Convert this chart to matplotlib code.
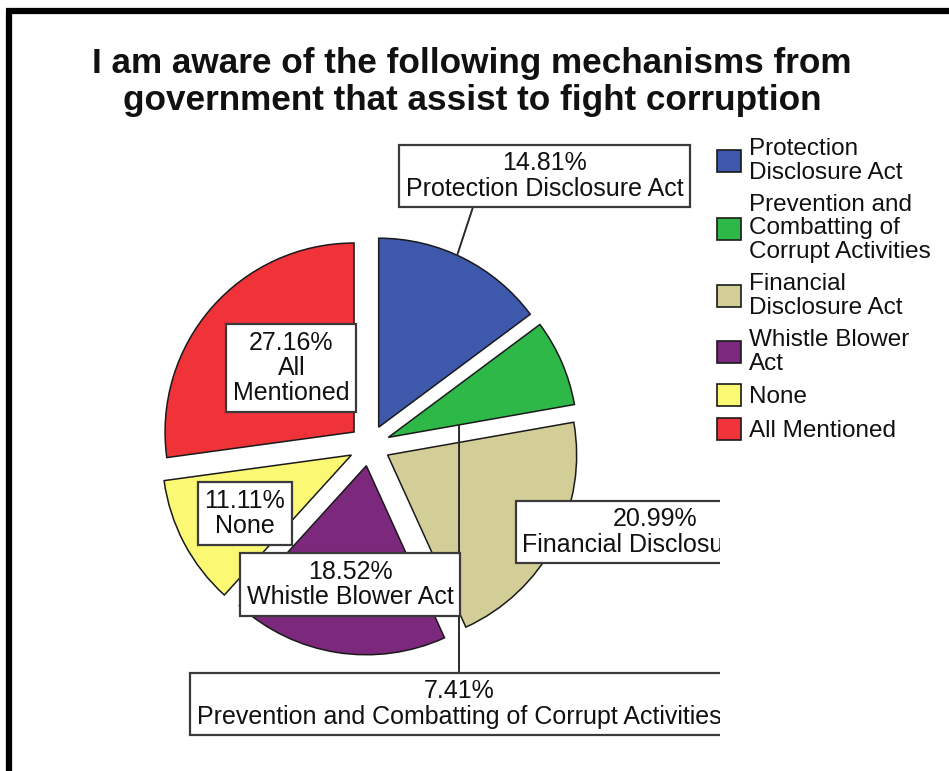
import matplotlib
matplotlib.use("Agg")
import matplotlib.pyplot as plt
import numpy as np
from matplotlib.transforms import Bbox, TransformedBbox

plt.rcParams["font.family"] = ["Liberation Sans", "DejaVu Sans"]

# ---- data -------------------------------------------------------------
categories = [
    "Protection Disclosure Act",
    "Prevention and Combatting of Corrupt Activities",
    "Financial Disclosure Act",
    "Whistle Blower Act",
    "None",
    "All Mentioned",
]
percentages = [14.81, 7.41, 20.99, 18.52, 11.11, 27.16]
legend_labels = [
    "Protection\nDisclosure Act",
    "Prevention and\nCombatting of\nCorrupt Activities",
    "Financial\nDisclosure Act",
    "Whistle Blower\nAct",
    "None",
    "All Mentioned",
]
slice_labels = [
    "Protection Disclosure Act",
    "Prevention and Combatting of Corrupt Activities",
    "Financial Disclosure Act",
    "Whistle Blower Act",
    "None",
    "All\nMentioned",
]
colors = ["#3E58AC", "#2EB848", "#D3CE97", "#7C287D", "#FBF873", "#EF3338"]
title = "I am aware of the following mechanisms from\ngovernment that assist to fight corruption"

# ---- canvas: one axes spanning the figure, 1 data unit = 1 pixel --------
W, H = 949, 771
fig = plt.figure(figsize=(W / 100, H / 100), dpi=100)
ax = fig.add_axes([0, 0, 1, 1])


def px(x, y):
    """Pixel position (origin top-left) -> data coordinates."""
    return x, H - y


center = px(369.5, 445.5)
radius = 189
gap = 20.5

wedges, _ = ax.pie(
    percentages,
    colors=colors,
    startangle=90,
    counterclock=False,
    radius=radius,
    center=center,
    explode=[gap] * len(percentages),
    wedgeprops=dict(edgecolor="#1a1a1a", linewidth=1.1),
)
ax.set_xlim(0, W)
ax.set_ylim(0, H)
ax.set_aspect("auto")
ax.axis("off")

# label boxes are clipped at the right edge of the plotting region
clip = TransformedBbox(Bbox([[0, 0], [720, H]]), ax.transData)

box_style = dict(boxstyle="square,pad=0.27", facecolor="white",
                 edgecolor="#3a3a3a", linewidth=1.6)
label_font = 18
label_pos = [(544.5, 176), (459, 704), (655, 532), (350, 584.5),
             (245, 513.5), (291.5, 368)]
# leader: (angle fraction across wedge, radial fraction, relpos on box)
leaders = {0: (0.54, 1.0, (0.25, 0.0)),
           1: (0.0, 0.38, (0.5, 1.0))}

for i, (pct, name) in enumerate(zip(percentages, slice_labels)):
    txt = f"{pct:.2f}%\n{name}"
    bx, by = px(*label_pos[i])
    if i in leaders:
        af, rf, rel = leaders[i]
        w = wedges[i]
        ang = np.deg2rad(w.theta1 + af * (w.theta2 - w.theta1))
        target = (w.center[0] + rf * w.r * np.cos(ang),
                  w.center[1] + rf * w.r * np.sin(ang))
        t = ax.annotate(txt, xy=target, xytext=(bx, by), textcoords="data",
                        ha="center", va="center", fontsize=label_font,
                        linespacing=1.07, color="#111111", bbox=box_style,
                        arrowprops=dict(arrowstyle="-", color="#2a2a2a",
                                        lw=1.4, relpos=rel,
                                        shrinkA=0, shrinkB=0))
    else:
        t = ax.text(bx, by, txt, ha="center", va="center", fontsize=label_font,
                    linespacing=1.07, color="#111111", bbox=box_style)
    t.set_clip_box(clip)
    t.set_clip_on(True)

# ---- title ------------------------------------------------------------
fig.text(472 / W, 1 - 82 / H, title, ha="center", va="center",
         fontsize=25.3, fontweight="bold", linespacing=1.14, color="#111111")

# ---- legend -----------------------------------------------------------
leg = fig.legend(wedges, legend_labels, loc="upper left",
                 bbox_to_anchor=(717 / W, 1 - 138 / H),
                 frameon=False, fontsize=17.5, borderpad=0,
                 borderaxespad=0, handlelength=1.0, handleheight=1.0,
                 handletextpad=0.33, labelspacing=0.4)
for txt in leg.get_texts():
    txt.set_linespacing(1.11)
    txt.set_color("#111111")
for h in leg.legend_handles:
    h.set_edgecolor("#1a1a1a")
    h.set_linewidth(1.2)

# ---- outer frame (top and left edges) ---------------------------------
ax.plot([px(9, 0)[0], px(9, 0)[0]], [px(0, 11)[1], 0], color="black",
        lw=4.5, solid_capstyle="butt", clip_on=False)
ax.plot([6, W], [px(0, 11)[1], px(0, 11)[1]], color="black", lw=4.5,
        solid_capstyle="butt", clip_on=False)

fig.savefig("out.png", dpi=100, facecolor="white")
